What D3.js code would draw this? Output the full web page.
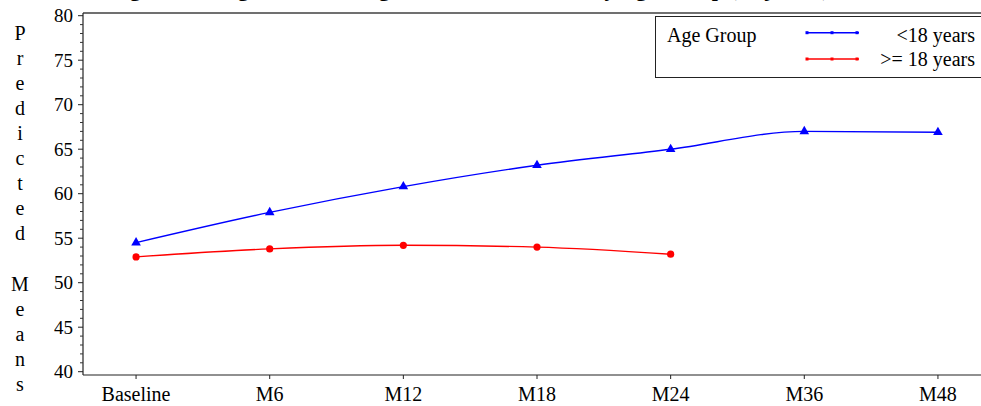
<!DOCTYPE html>
<html lang="en">
<head>
    <meta charset="UTF-8">
    <title>Predicted Means by Age Group</title>
    <script src="https://d3js.org/d3.v7.min.js"></script>
    <style>
        body { margin: 0; background: #fff; }
        svg { display: block; font-family: "Liberation Serif", "Times New Roman", serif; }
    </style>
</head>
<body>
    <svg id="chart" width="981" height="406"></svg>

    <script>
        // Visit categories (x axis)
        const visits = ["Baseline", "M6", "M12", "M18", "M24", "M36", "M48"];
        // Predicted means, <18 years
        const under18 = [54.5, 57.9, 60.8, 63.2, 65.0, 67.0, 66.9];
        // Predicted means, >= 18 years (no data after M24)
        const over18 = [52.9, 53.8, 54.2, 54.0, 53.2];
        // y ticks
        const yTicks = [40, 45, 50, 55, 60, 65, 70, 75, 80];
        const groupNames = ["<18 years", ">= 18 years"];

        // Plot frame
        const plot = { left: 83, right: 991, top: 13, bottom: 375 };

        const svg = d3.select("#chart");

        const xScale = d3.scalePoint()
            .domain(visits)
            .range([plot.left, plot.right])
            .padding(0.397);

        const yScale = d3.scaleLinear()
            .domain([40, 80])
            .range([371.7, 15.7]);

        // title (clipped by the top of the image, only descenders show)
        svg.append("text")
            .attr("x", 470)
            .attr("y", -4.5)
            .attr("text-anchor", "middle")
            .attr("font-size", "22px")
            .attr("font-weight", "bold")
            .text("Figure 2. Longitudinal Change in Predicted Means by Age Group (Adjusted)");

        // frame top / right
        svg.append("path")
            .attr("d", `M${plot.left},${plot.top}H${plot.right}V${plot.bottom}`)
            .attr("fill", "none")
            .attr("stroke", "#707070")
            .attr("stroke-width", 2);

        // y axis
        const yAxis = svg.append("g")
            .attr("transform", `translate(${plot.left},0)`);
        yAxis.append("line")
            .attr("y1", plot.top).attr("y2", plot.bottom)
            .attr("stroke", "#222").attr("stroke-width", 1.2);
        yAxis.selectAll(".minor")
            .data(d3.range(40, 81, 1).filter(v => v % 5 !== 0))
            .enter().append("line")
            .attr("class", "minor")
            .attr("x1", -3).attr("x2", 0)
            .attr("y1", d => yScale(d)).attr("y2", d => yScale(d))
            .attr("stroke", "#333");
        yAxis.selectAll(".major")
            .data(yTicks)
            .enter().append("line")
            .attr("class", "major")
            .attr("x1", -5).attr("x2", 0)
            .attr("y1", d => yScale(d)).attr("y2", d => yScale(d))
            .attr("stroke", "#222");
        yAxis.selectAll(".ylab")
            .data(yTicks)
            .enter().append("text")
            .attr("class", "ylab")
            .attr("x", -10)
            .attr("y", d => yScale(d))
            .attr("dy", "0.35em")
            .attr("text-anchor", "end")
            .attr("font-size", "19px")
            .text(d => d);

        // y axis title, one letter per line
        const yTitle = "Predicted Means".split("");
        svg.append("g").selectAll("text")
            .data(yTitle)
            .enter().append("text")
            .attr("x", 20)
            .attr("y", (d, i) => 39.5 + i * 25.1)
            .attr("text-anchor", "middle")
            .attr("font-size", "20px")
            .text(d => d);

        // x axis
        const xAxis = svg.append("g");
        xAxis.append("line")
            .attr("x1", plot.left).attr("x2", plot.right)
            .attr("y1", plot.bottom).attr("y2", plot.bottom)
            .attr("stroke", "#222").attr("stroke-width", 1.2);
        xAxis.selectAll(".xtick")
            .data(visits)
            .enter().append("line")
            .attr("x1", d => xScale(d)).attr("x2", d => xScale(d))
            .attr("y1", plot.bottom).attr("y2", plot.bottom + 4)
            .attr("stroke", "#222");
        xAxis.selectAll(".xlab")
            .data(visits)
            .enter().append("text")
            .attr("x", d => xScale(d))
            .attr("y", 401)
            .attr("text-anchor", "middle")
            .attr("font-size", "20px")
            .text(d => d);

        // lines
        const line = d3.line()
            .x(d => xScale(d.visit))
            .y(d => yScale(d.value))
            .curve(d3.curveMonotoneX);

        const blueData = under18.map((v, i) => ({ visit: visits[i], value: v }));
        const redData = over18.map((v, i) => ({ visit: visits[i], value: v }));

        svg.append("path")
            .datum(blueData)
            .attr("d", line)
            .attr("fill", "none")
            .attr("stroke", "#0000ff")
            .attr("stroke-width", 1.4);

        svg.append("path")
            .datum(redData)
            .attr("d", line)
            .attr("fill", "none")
            .attr("stroke", "#ff0000")
            .attr("stroke-width", 1.4);

        // markers
        const tri = d3.symbol().type(d3.symbolTriangle).size(40);
        svg.selectAll(".tri")
            .data(blueData)
            .enter().append("path")
            .attr("class", "tri")
            .attr("d", tri)
            .attr("transform", d => `translate(${xScale(d.visit)},${yScale(d.value)})`)
            .attr("fill", "#0000ff");

        svg.selectAll(".dot")
            .data(redData)
            .enter().append("circle")
            .attr("class", "dot")
            .attr("cx", d => xScale(d.visit))
            .attr("cy", d => yScale(d.value))
            .attr("r", 3.6)
            .attr("fill", "#ff0000");

        // legend
        const legend = svg.append("g");
        legend.append("rect")
            .attr("x", 655.5).attr("y", 16.5)
            .attr("width", 340).attr("height", 61)
            .attr("fill", "#fff")
            .attr("stroke", "#222");
        legend.append("text")
            .attr("x", 667).attr("y", 42)
            .attr("font-size", "20px")
            .text("Age Group");

        const legendColors = ["#0000ff", "#ff0000"];
        groupNames.forEach((name, i) => {
            const ly = [32.7, 59][i];
            legend.append("line")
                .attr("x1", 806).attr("x2", 859)
                .attr("y1", ly).attr("y2", ly)
                .attr("stroke", legendColors[i])
                .attr("stroke-width", 1.4);
            [807, 832, 857].forEach(mx => {
                legend.append("rect")
                    .attr("x", mx - 1.5).attr("y", ly - 1.5)
                    .attr("width", 3).attr("height", 3)
                    .attr("fill", legendColors[i]);
            });
            legend.append("text")
                .attr("x", 975).attr("y", [42, 65.5][i])
                .attr("text-anchor", "end")
                .attr("font-size", "20px")
                .text(name);
        });
    </script>
</body>
</html>
